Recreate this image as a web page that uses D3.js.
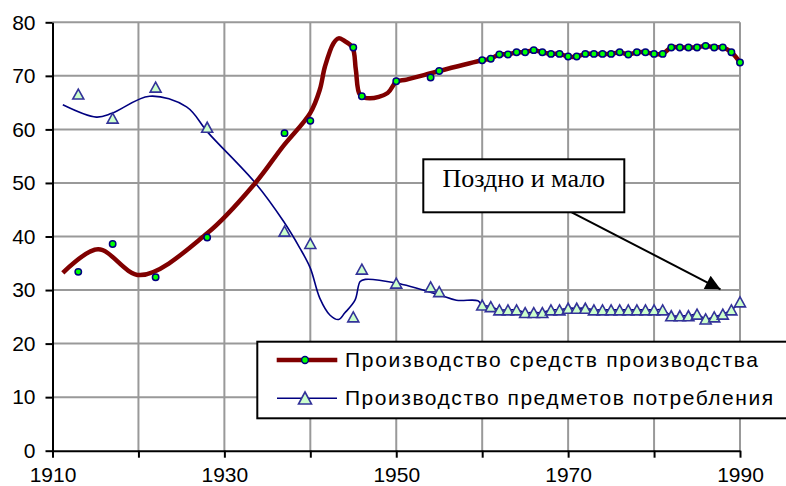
<!DOCTYPE html>
<html>
<head>
<meta charset="utf-8">
<script src="https://cdn.jsdelivr.net/npm/d3@7"></script>
<style>
  body { margin: 0; background: #fff; }
  svg { display: block; }
  .axis text { font-family: "Liberation Sans", Arial, sans-serif; font-size: 21px; fill: #000; }
</style>
</head>
<body>
<div id="chart"></div>
<script>
const WIDTH = 786;
const HEIGHT = 486;

// series 1: Производство средств производства (markers)
const prodYears = [1913, 1917, 1922, 1928, 1937, 1940, 1945, 1946, 1950, 1954, 1955,
	1960, 1961, 1962, 1963, 1964, 1965, 1966, 1967, 1968, 1969, 1970, 1971, 1972, 1973, 1974,
	1975, 1976, 1977, 1978, 1979, 1980, 1981, 1982, 1983, 1984, 1985, 1986, 1987, 1988, 1989, 1990];
const prodValues = [33.4, 38.6, 32.4, 39.8, 59.3, 61.6, 75.3, 66.2, 69.0, 69.7, 70.9,
	72.9, 73.2, 74.0, 74.0, 74.4, 74.4, 74.8, 74.4, 74.1, 74.1, 73.6, 73.6, 74.1, 74.1, 74.1,
	74.1, 74.4, 74.0, 74.4, 74.4, 74.1, 74.1, 75.3, 75.3, 75.3, 75.3, 75.6, 75.3, 75.3, 74.4, 72.5];

// smoothed line of series 1 before 1960
const prodCurveYears = [1911.2, 1915.3, 1920.2, 1928, 1933.6, 1936.8, 1940, 1941.1, 1941.7, 1942.7,
	1943.3, 1943.9, 1944.9, 1945.3, 1945.8, 1946.9, 1949, 1950, 1951.2, 1955];
const prodCurveValues = [33.2, 37.6, 32.8, 40.6, 50.0, 56.8, 63.1, 67.4, 71.7, 76.1,
	77.0, 76.6, 75.3, 71.1, 66.4, 65.8, 66.8, 68.9, 69.3, 70.9];

// series 2: Производство предметов потребления (markers)
const consYears = [1913, 1917, 1922, 1928, 1937, 1940, 1945, 1946, 1950, 1954, 1955,
	1960, 1961, 1962, 1963, 1964, 1965, 1966, 1967, 1968, 1969, 1970, 1971, 1972, 1973, 1974,
	1975, 1976, 1977, 1978, 1979, 1980, 1981, 1982, 1983, 1984, 1985, 1986, 1987, 1988, 1989, 1990];
const consValues = [66.6, 62.1, 67.9, 60.4, 41.0, 38.7, 25.0, 33.9, 31.3, 30.6, 29.7,
	27.2, 26.9, 26.3, 26.3, 26.3, 25.8, 25.8, 25.8, 26.3, 26.3, 26.6, 26.6, 26.6, 26.3, 26.3,
	26.3, 26.3, 26.3, 26.3, 26.3, 26.3, 26.3, 25.2, 25.2, 25.2, 25.5, 24.6, 25.0, 25.5, 26.3, 27.8];

// smoothed line of series 2 before 1960
const consCurveYears = [1911.2, 1915.1, 1916.9, 1921.3, 1925.6, 1928.1, 1933.6, 1936.9, 1938.8, 1940,
	1941.1, 1942.3, 1943.3, 1944, 1945.2, 1945.8, 1946.4, 1950, 1955, 1957, 1959.5];
const consCurveValues = [64.6, 62.3, 63.0, 66.2, 64.2, 59.4, 50.0, 42.8, 37.8, 34.1,
	28.5, 25.3, 24.5, 25.7, 28.1, 31.6, 32.0, 31.3, 29.1, 28.1, 28.0];

const xTicks = [1910, 1920, 1930, 1940, 1950, 1960, 1970, 1980, 1990];
const xLabels = ['1910', '', '1930', '', '1950', '', '1970', '', '1990'];
const yTicks = [0, 10, 20, 30, 40, 50, 60, 70, 80];

const legendLabels = ['Производство средств производства', 'Производство предметов потребления'];
const noteText = 'Поздно и мало';

const x = d3.scaleLinear().domain([1910, 1990]).range([52.5, 740]);
const y = d3.scaleLinear().domain([0, 80]).range([450.7, 22.3]);

const svg = d3.select('#chart').append('svg')
	.attr('width', WIDTH)
	.attr('height', HEIGHT);

// grid
const grid = svg.append('g').attr('class', 'grid');
grid.selectAll('line.v')
	.data(xTicks.slice(1))
	.enter().append('line')
		.attr('x1', d => x(d)).attr('x2', d => x(d))
		.attr('y1', y(0)).attr('y2', y(80))
		.attr('stroke', '#999').attr('stroke-width', 2);
grid.selectAll('line.h')
	.data(yTicks.slice(1))
	.enter().append('line')
		.attr('x1', x(1910)).attr('x2', x(1990))
		.attr('y1', d => y(d)).attr('y2', d => y(d))
		.attr('stroke', '#999').attr('stroke-width', 2);

// axes
svg.append('g')
	.attr('class', 'axis')
	.attr('transform', `translate(0,${y(0)})`)
	.call(d3.axisBottom(x).tickValues(xTicks).tickFormat((d, i) => xLabels[i]).tickSize(7).tickPadding(9).tickSizeOuter(0));
svg.append('g')
	.attr('class', 'axis')
	.attr('transform', `translate(${x(1910)},0)`)
	.call(d3.axisLeft(y).tickValues(yTicks).tickSize(7).tickPadding(10).tickSizeOuter(0));
svg.selectAll('.axis path, .axis line').attr('stroke', '#000').attr('stroke-width', 2);

const line = d3.line()
	.x(d => x(d[0]))
	.y(d => y(d[1]))
	.curve(d3.curveCatmullRom.alpha(0.5));

const prodLine = prodCurveYears.map((yr, i) => [yr, prodCurveValues[i]])
	.concat(prodYears.map((yr, i) => [yr, prodValues[i]]).filter(d => d[0] >= 1960));
const consLine = consCurveYears.map((yr, i) => [yr, consCurveValues[i]])
	.concat(consYears.map((yr, i) => [yr, consValues[i]]).filter(d => d[0] >= 1960));

svg.append('path')
	.attr('d', line(consLine))
	.attr('fill', 'none')
	.attr('stroke', '#000080')
	.attr('stroke-width', 1.6);

svg.append('path')
	.attr('d', line(prodLine))
	.attr('fill', 'none')
	.attr('stroke', '#800000')
	.attr('stroke-width', 4.5)
	.attr('stroke-linejoin', 'round');

const tri = (w, h) => `M0,${-h / 2}L${w / 2},${h / 2}L${-w / 2},${h / 2}Z`;

svg.append('g').selectAll('path')
	.data(consYears)
	.enter().append('path')
		.attr('transform', (d, i) => `translate(${x(d)},${y(consValues[i])})`)
		.attr('d', tri(11, 10))
		.attr('fill', '#ccffcc')
		.attr('stroke', '#333399')
		.attr('stroke-width', 1.6);

svg.append('g').selectAll('circle')
	.data(prodYears)
	.enter().append('circle')
		.attr('cx', d => x(d))
		.attr('cy', (d, i) => y(prodValues[i]))
		.attr('r', 3.2)
		.attr('fill', '#00ff00')
		.attr('stroke', '#000080')
		.attr('stroke-width', 1.5);

// legend
const legend = svg.append('g').attr('class', 'legend');
legend.append('rect')
	.attr('x', 257.3).attr('y', 341.7)
	.attr('width', 540).attr('height', 76.6)
	.attr('fill', '#fff').attr('stroke', '#000').attr('stroke-width', 2);
legend.append('line')
	.attr('x1', 276.7).attr('x2', 337.3).attr('y1', 360).attr('y2', 360)
	.attr('stroke', '#800000').attr('stroke-width', 4.5);
legend.append('circle')
	.attr('cx', 305).attr('cy', 360).attr('r', 3.4)
	.attr('fill', '#00ff00').attr('stroke', '#000080').attr('stroke-width', 1.5);
legend.append('line')
	.attr('x1', 277).attr('x2', 337).attr('y1', 398.3).attr('y2', 398.3)
	.attr('stroke', '#000080').attr('stroke-width', 1.6);
legend.append('path')
	.attr('transform', 'translate(305,398)')
	.attr('d', tri(13, 12))
	.attr('fill', '#ccffcc').attr('stroke', '#333399').attr('stroke-width', 1.6);
legend.selectAll('text')
	.data(legendLabels)
	.enter().append('text')
		.attr('x', 345)
		.attr('y', (d, i) => 367 + i * 38.3)
		.attr('textLength', (d, i) => i === 0 ? 413 : 428)
		.attr('lengthAdjust', 'spacing')
		.style('font-family', '"Liberation Sans", Arial, sans-serif')
		.style('font-size', '21px')
		.text(d => d);

// callout
svg.append('defs').append('marker')
	.attr('id', 'head')
	.attr('viewBox', '0 0 10 10')
	.attr('refX', 10).attr('refY', 5)
	.attr('markerUnits', 'userSpaceOnUse')
	.attr('markerWidth', 17).attr('markerHeight', 15)
	.attr('orient', 'auto')
	.append('path').attr('d', 'M0,0L10,5L0,10Z').attr('fill', '#000');

svg.append('line')
	.attr('x1', 571.7).attr('y1', 212.3)
	.attr('x2', 720.5).attr('y2', 289.3)
	.attr('stroke', '#000').attr('stroke-width', 2)
	.attr('marker-end', 'url(#head)');

svg.append('rect')
	.attr('x', 423.3).attr('y', 159.3)
	.attr('width', 201).attr('height', 53)
	.attr('fill', '#fff').attr('stroke', '#000').attr('stroke-width', 2);
svg.append('text')
	.attr('x', 523.8).attr('y', 187)
	.attr('text-anchor', 'middle')
	.style('font-family', '"Liberation Serif", "Times New Roman", serif')
	.style('font-size', '26px')
	.text(noteText);
</script>
</body>
</html>
